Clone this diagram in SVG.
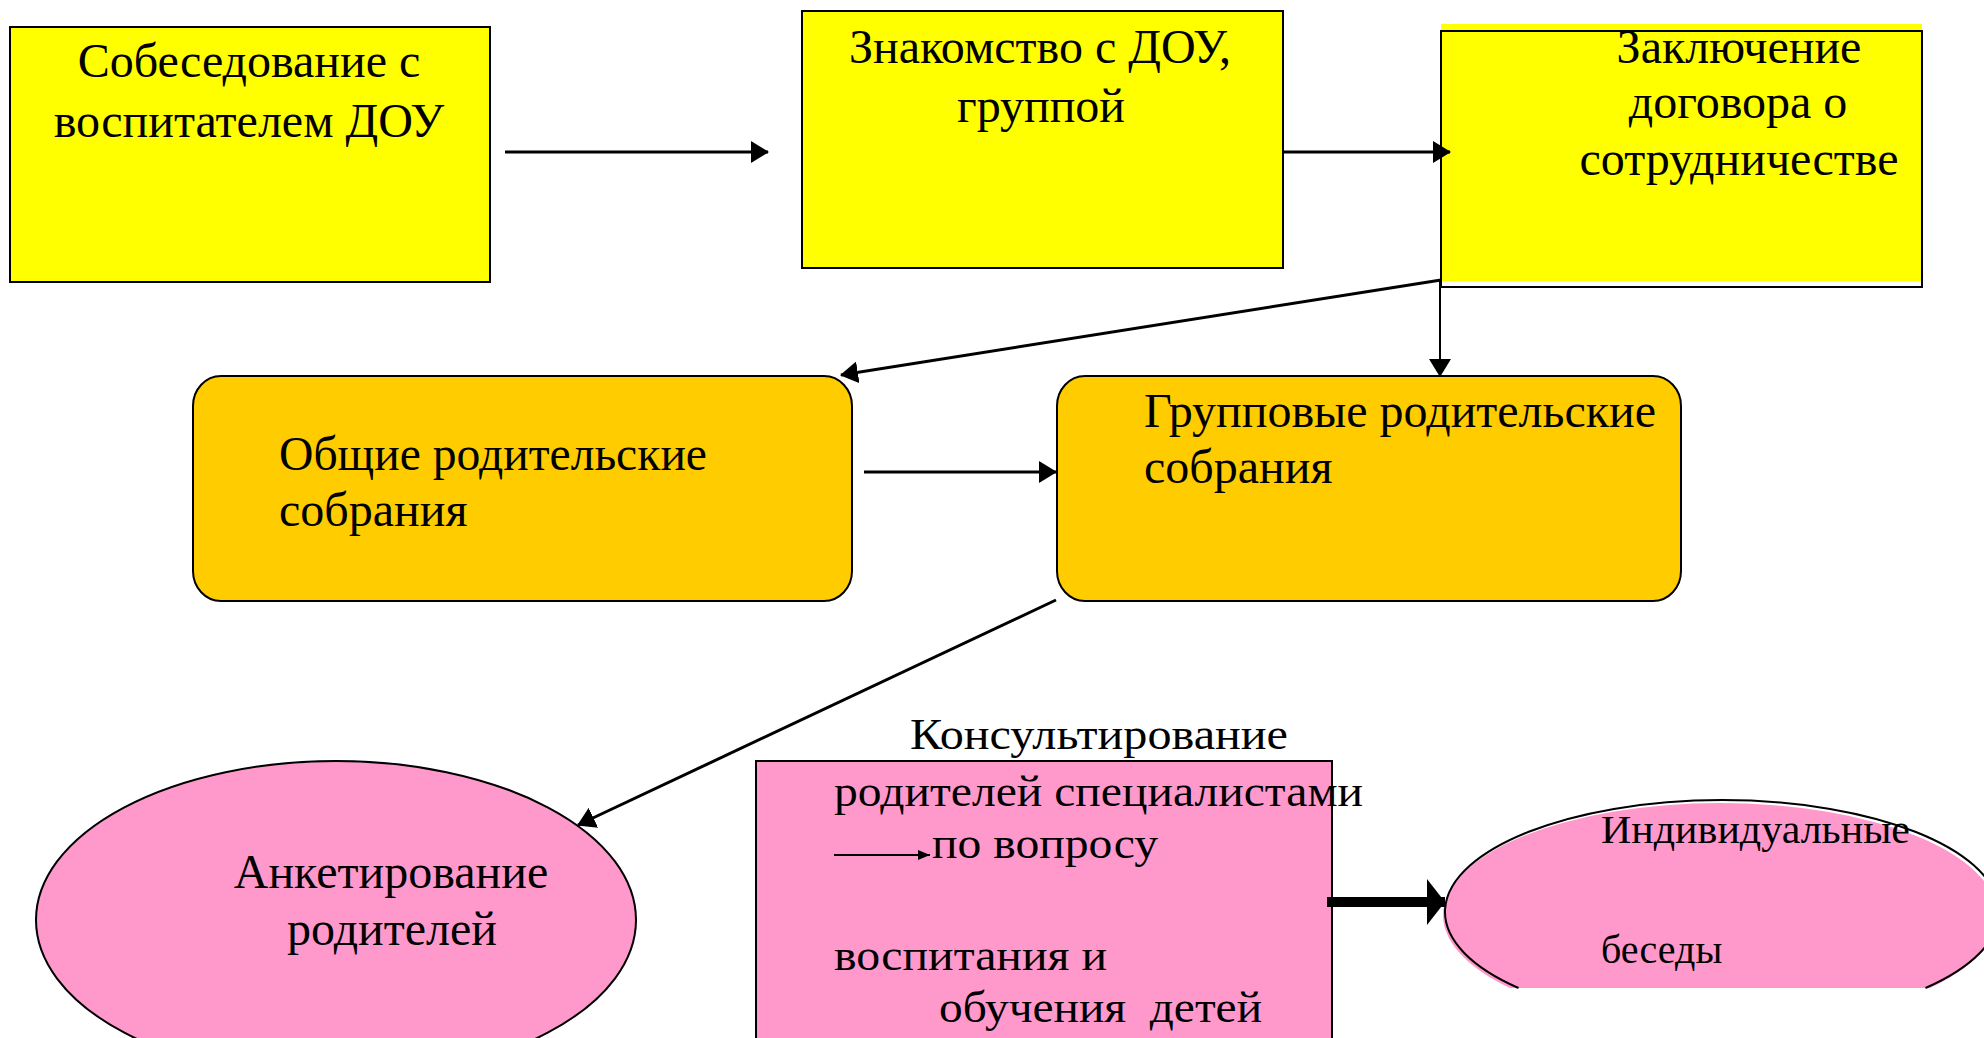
<svg xmlns="http://www.w3.org/2000/svg" width="1984" height="1038" viewBox="0 0 1984 1038">
<style>
text{font-family:"Liberation Serif","Times New Roman",serif;fill:#000}
.t46{font-size:48px}
.t42{font-size:44px}
.t40{font-size:40px}
.box{stroke:#000;stroke-width:2}
.yel{fill:#FFFF00}
.org{fill:#FFCC00}
.pnk{fill:#FF99CC}
.ln{stroke:#000;stroke-width:3;fill:none}
.thin{stroke:#000;stroke-width:2;fill:none}
</style>
<defs>
<marker id="ah" markerUnits="userSpaceOnUse" markerWidth="18" markerHeight="22" refX="17" refY="11" orient="auto">
<path d="M0,0 L18,11 L0,22 Z" fill="#000"/>
</marker>
<marker id="ahs" markerUnits="userSpaceOnUse" markerWidth="12" markerHeight="10" refX="12" refY="5" orient="auto">
<path d="M0,0 L12,5 L0,10 Z" fill="#000"/>
</marker>
<marker id="ahb" markerUnits="userSpaceOnUse" markerWidth="18" markerHeight="46" refX="18" refY="23" orient="auto">
<path d="M0,0 L18,23 L0,46 Z" fill="#000"/>
</marker>
<clipPath id="cut2"><rect x="1400" y="700" width="600" height="288"/></clipPath>
</defs>

<g id="node-sobesedovanie">
<rect class="box yel" x="10" y="27" width="480" height="255"/>
<text class="t46" x="249" y="77" text-anchor="middle">Собеседование с</text>
<text class="t46" x="249" y="137" text-anchor="middle">воспитателем ДОУ</text>
</g>

<g id="node-znakomstvo">
<rect class="box yel" x="802" y="11" width="481" height="257"/>
<text class="t46" x="1040" y="63" text-anchor="middle">Знакомство с ДОУ,</text>
<text class="t46" x="1041" y="122" text-anchor="middle">группой</text>
</g>

<g id="node-dogovor">
<rect class="yel" x="1441" y="24" width="481" height="257"/>
<rect x="1441" y="31" width="481" height="256" fill="none" stroke="#000" stroke-width="2"/>
<text class="t46" x="1739" y="63" text-anchor="middle">Заключение</text>
<text class="t46" x="1738" y="118" text-anchor="middle">договора о</text>
<text class="t46" x="1739" y="175" text-anchor="middle">сотрудничестве</text>
</g>

<g id="node-obshchie">
<rect class="box org" x="193" y="376" width="659" height="225" rx="28" ry="30"/>
<text class="t46" x="279" y="470" textLength="428" lengthAdjust="spacingAndGlyphs">Общие родительские</text>
<text class="t46" x="279" y="526">собрания</text>
</g>

<g id="node-gruppovye">
<rect class="box org" x="1057" y="376" width="624" height="225" rx="28" ry="30"/>
<text class="t46" x="1144" y="427" textLength="512" lengthAdjust="spacingAndGlyphs">Групповые родительские</text>
<text class="t46" x="1144" y="483">собрания</text>
</g>

<g id="node-anketirovanie">
<ellipse class="box pnk" cx="336" cy="920" rx="300" ry="159"/>
<text class="t46" x="391" y="888" text-anchor="middle">Анкетирование</text>
<text class="t46" x="392" y="945" text-anchor="middle">родителей</text>
</g>

<g id="node-konsultirovanie">
<rect class="box pnk" x="756" y="761" width="576" height="300"/>
<text class="t42" x="910" y="749" textLength="378" lengthAdjust="spacingAndGlyphs">Консультирование</text>
<text class="t42" x="834" y="806" textLength="529" lengthAdjust="spacingAndGlyphs">родителей специалистами</text>
<line class="thin" x1="834" y1="855" x2="930" y2="855" marker-end="url(#ahs)"/>
<text class="t42" x="932" y="858" textLength="226" lengthAdjust="spacingAndGlyphs">по вопросу</text>
<text class="t42" x="834" y="970" textLength="273" lengthAdjust="spacingAndGlyphs">воспитания и</text>
<text class="t42" x="939" y="1022" textLength="323" lengthAdjust="spacingAndGlyphs" xml:space="preserve">обучения  детей</text>
</g>

<g id="node-besedy">
<ellipse class="pnk" cx="1720" cy="915" rx="277" ry="112" clip-path="url(#cut2)"/>
<path d="M1518.5,988 A277,112 0 1,1 1925.5,988" fill="none" stroke="#000" stroke-width="2"/>
<text class="t40" x="1601" y="843" textLength="309" lengthAdjust="spacingAndGlyphs">Индивидуальные</text>
<text class="t40" x="1601" y="963">беседы</text>
</g>

<g id="connectors">
<line class="ln" x1="505" y1="152" x2="768" y2="152" marker-end="url(#ah)"/>
<line class="ln" x1="1283" y1="152" x2="1450" y2="152" marker-end="url(#ah)"/>
<line class="ln" x1="1441" y1="280" x2="841" y2="375" marker-end="url(#ah)"/>
<line class="thin" x1="1440" y1="280" x2="1440" y2="376" marker-end="url(#ah)"/>
<line class="ln" x1="864" y1="472" x2="1056" y2="472" marker-end="url(#ah)"/>
<line class="ln" x1="1056" y1="600" x2="578" y2="825" marker-end="url(#ah)"/>
<line x1="1327" y1="902" x2="1445" y2="902" stroke="#000" stroke-width="10" marker-end="url(#ahb)"/>
</g>
</svg>
